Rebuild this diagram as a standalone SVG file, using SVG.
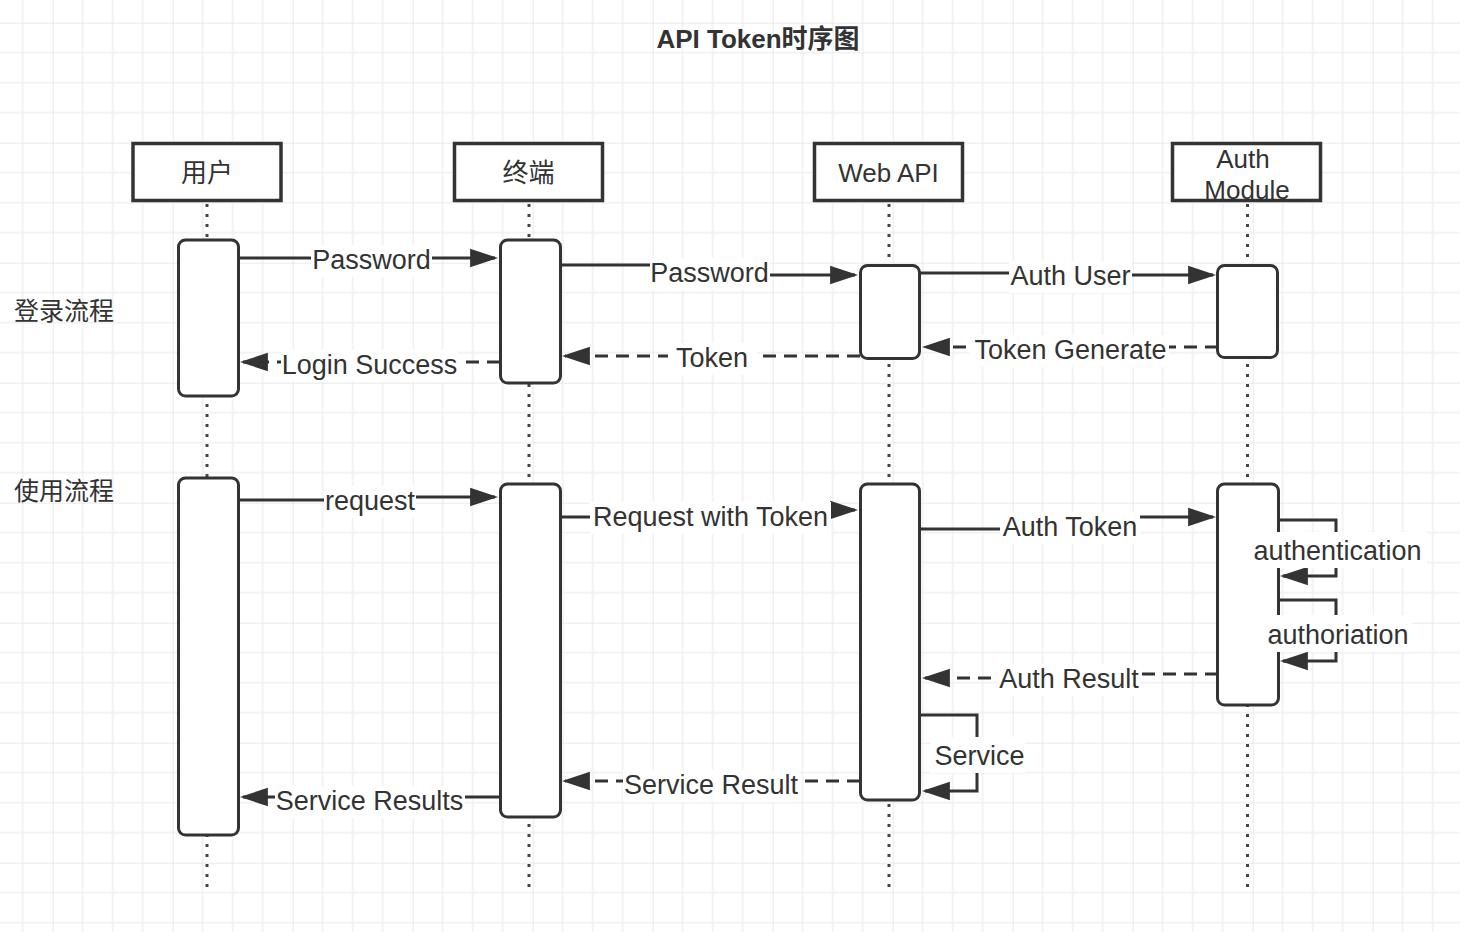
<svg xmlns="http://www.w3.org/2000/svg" width="1460" height="932" viewBox="0 0 1460 932">
<style>
.t{font-family:"Liberation Sans","Noto Sans CJK SC",sans-serif;font-size:27px;fill:#333;text-anchor:middle}
.h{font-family:"Liberation Sans","Noto Sans CJK SC",sans-serif;font-size:26px;fill:#333;text-anchor:middle}
.cjk{font-family:"Noto Sans CJK SC","Liberation Sans",sans-serif;font-size:25px;fill:#333}
.title{font-family:"Liberation Sans","Noto Sans CJK SC",sans-serif;font-size:26px;font-weight:bold;fill:#333;text-anchor:middle}
.head{fill:#fff;stroke:#333;stroke-width:3.5}
.act{fill:#fff;stroke:#333;stroke-width:3}
.life{stroke:#444;stroke-width:3;stroke-dasharray:3 7;fill:none}
.msg{fill:none;stroke:#333;stroke-width:3}
.dash{stroke-dasharray:13 8}
.bg{fill:#fff}
</style>
<defs>
<pattern id="grid" patternUnits="userSpaceOnUse" x="52.7" y="22.7" width="120" height="120">
<path d="M30,0V120M60,0V120M90,0V120M0,30H120M0,60H120M0,90H120" stroke="#efefef" stroke-width="1.5" fill="none"/>
<path d="M0,0V120M0,0H120" stroke="#e4e4e4" stroke-width="1.5" fill="none"/>
</pattern>
<marker id="arr" markerUnits="userSpaceOnUse" markerWidth="28" markerHeight="20" viewBox="0 0 27 18" refX="24" refY="9" orient="auto">
<path d="M0,0L27,9L0,18z" fill="#333"/>
</marker>
</defs>
<rect width="1460" height="932" fill="#fff"/>
<rect width="1460" height="932" fill="url(#grid)"/>
<text class="title" x="758" y="48">API Token时序图</text>
<text class="cjk" x="14" y="320">登录流程</text>
<text class="cjk" x="14" y="500">使用流程</text>
<g id="lifelines">
<path class="life" d="M207,204V893M529,204V893M889,204V893M1247.5,204V893"/>
</g>
<g id="user">
<rect class="head" x="133" y="143.5" width="148" height="57"/>
<text class="h" x="207" y="182">用户</text>
<rect class="act" x="178.5" y="240" width="60" height="156" rx="7"/>
<rect class="act" x="178.5" y="478" width="60" height="357" rx="7"/>
</g>
<g id="terminal">
<rect class="head" x="454.5" y="143.5" width="148" height="57"/>
<text class="h" x="528.5" y="182">终端</text>
<rect class="act" x="500.5" y="240" width="60" height="143" rx="7"/>
<rect class="act" x="500.5" y="484" width="60" height="333" rx="7"/>
</g>
<g id="webapi">
<rect class="head" x="814.5" y="143.5" width="148" height="57"/>
<text class="h" x="888.5" y="182">Web API</text>
<rect class="act" x="860.5" y="265.5" width="59" height="93" rx="7"/>
<rect class="act" x="860.5" y="484" width="59" height="316" rx="7"/>
</g>
<g id="auth">
<rect class="head" x="1172.5" y="143.5" width="148" height="57"/>
<text class="h" x="1243" y="168">Auth</text>
<text class="h" x="1247" y="199">Module</text>
<rect class="act" x="1217.5" y="265.5" width="60" height="92" rx="7"/>
<rect class="act" x="1217.5" y="484" width="61" height="221" rx="7"/>
</g>
<g id="connectors">
<path class="msg" marker-end="url(#arr)" d="M238,258H495"/>
<rect class="bg" x="311" y="245" width="121" height="32"/>
<text class="t" x="371.5" y="269">Password</text>

<path class="msg dash" marker-end="url(#arr)" d="M500,362H243"/>
<rect class="bg" x="281" y="350" width="177" height="32"/>
<text class="t" x="369.5" y="374">Login Success</text>

<path class="msg" marker-end="url(#arr)" d="M560,265H710V275H855"/>
<rect class="bg" x="650" y="258" width="120" height="32"/>
<text class="t" x="709.5" y="282">Password</text>

<path class="msg dash" marker-end="url(#arr)" d="M860,356H565"/>
<rect class="bg" x="668" y="343" width="89" height="32"/>
<text class="t" x="712" y="367">Token</text>

<path class="msg" marker-end="url(#arr)" d="M920,273H1070V275H1213"/>
<rect class="bg" x="1009" y="261" width="123" height="32"/>
<text class="t" x="1070.5" y="285">Auth User</text>

<path class="msg dash" marker-end="url(#arr)" d="M1218,347H925"/>
<rect class="bg" x="969" y="335" width="200" height="32"/>
<text class="t" x="1070.5" y="359">Token Generate</text>

<path class="msg" marker-end="url(#arr)" d="M238,500H370V497H495"/>
<rect class="bg" x="324" y="486" width="92" height="32"/>
<text class="t" x="370" y="510">request</text>

<path class="msg" marker-end="url(#arr)" d="M560,517H710V510H855"/>
<rect class="bg" x="590" y="502" width="241" height="32"/>
<text class="t" x="710.5" y="526">Request with Token</text>

<path class="msg" marker-end="url(#arr)" d="M920,529H1070V517H1213"/>
<rect class="bg" x="1000" y="512" width="140" height="32"/>
<text class="t" x="1070" y="536">Auth Token</text>

<path class="msg" marker-end="url(#arr)" d="M1278,520H1336V576H1283"/>
<rect class="bg" x="1250" y="532" width="177" height="36"/>
<text class="t" x="1337.5" y="560">authentication</text>

<path class="msg" marker-end="url(#arr)" d="M1278,600H1336V661H1283"/>
<rect class="bg" x="1262" y="615" width="150" height="37"/>
<text class="t" x="1338" y="644">authoriation</text>

<path class="msg dash" marker-end="url(#arr)" d="M1218,674H1069V678H925"/>
<rect class="bg" x="998" y="664" width="142" height="32"/>
<text class="t" x="1069" y="688">Auth Result</text>

<path class="msg" marker-end="url(#arr)" d="M920,715H977V791H925"/>
<rect class="bg" x="930" y="737" width="95" height="36"/>
<text class="t" x="979.5" y="765">Service</text>

<path class="msg dash" marker-end="url(#arr)" d="M860,781H565"/>
<rect class="bg" x="623" y="770" width="176" height="32"/>
<text class="t" x="711" y="794">Service Result</text>

<path class="msg" marker-end="url(#arr)" d="M500,797H243"/>
<rect class="bg" x="275" y="786" width="190" height="32"/>
<text class="t" x="369.5" y="810">Service Results</text>
</g>
</svg>
